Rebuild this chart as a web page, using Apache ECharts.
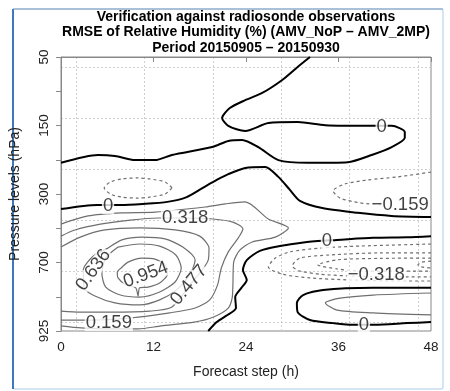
<!DOCTYPE html>
<html><head><meta charset="utf-8">
<script src="https://cdn.jsdelivr.net/npm/echarts/dist/echarts.min.js"></script>
<style>html,body{margin:0;padding:0;background:#fff}#c{width:450px;height:391px}</style>
</head><body><div id="c"></div>
<script>
// ---------------- data ----------------
const titleLines = [
  'Verification against radiosonde observations',
  'RMSE of Relative Humidity (%) (AMV_NoP \u2013 AMV_2MP)',
  'Period 20150905 \u2013 20150930'
];
const xName = 'Forecast step (h)';
const yName = 'Pressure levels (hPa)';
const xTicks = [0, 12, 24, 36, 48];
// y axis: pressure level index (0 = top), labels on every other level
const yTickLabels = ['50', '', '150', '', '300', '', '700', '', '925'];

// contour lines as [forecast hour, pressure-level index]
const zeroA = [[32.3,0],[30.7,0.29],[28.7,0.67],[26.1,1.05],[23.9,1.26],[21.9,1.49],[20.9,1.78],[21.7,2.01],[23.9,2.16],[26.9,1.93],[30.7,1.90],[34.3,1.99],[40.3,2.01],[42.9,2.01],[44.6,2.19],[44.6,2.36],[42.9,2.63],[40.3,2.86],[37.2,3.07],[32.0,3.09],[28.2,3.01],[25.6,2.63],[23.5,2.42],[21.7,2.45],[19.6,2.63],[14.4,2.86],[12.2,3.01],[9.6,3.01],[7.0,2.89],[4.8,2.86],[0,3.09]];
const zeroB = [[0,4.44],[4.7,4.32],[7.7,4.32],[10.6,4.29],[13.8,4.23],[16.3,4.09],[18.4,3.82],[20.2,3.59],[21.7,3.42],[23.9,3.24],[26.5,3.21],[28.2,3.50],[29.7,3.88],[31.0,4.20],[33.9,4.41],[38.5,4.55],[42.9,4.64],[48,4.67]];
const zeroC = [[19.1,8],[20.2,7.74],[21.4,7.56],[22.7,7.33],[22.6,7.01],[23.4,6.74],[24.1,6.51],[23.6,6.22],[24.1,5.93],[25.8,5.66],[28.4,5.52],[31.9,5.40],[33.3,5.37],[35.8,5.34],[40.5,5.28],[44.9,5.26],[48,5.23]];
const zeroD = [[48,6.74],[40.5,6.74],[34.0,6.80],[31.4,6.95],[30.6,7.18],[30.7,7.45],[32.3,7.68],[35.3,7.77],[37.9,7.82],[40.7,7.82],[44.9,7.77],[48,7.74]];

const pos159 = [[0,4.88],[3.5,4.64],[7.9,4.55],[12.2,4.53],[18.7,4.38],[21.3,4.29],[23.9,4.23],[26.9,4.73],[29.5,4.99],[27.8,5.26],[24.8,5.40],[23.2,5.64],[22.4,5.99],[22.3,6.66],[22.2,7.04],[21.7,7.33],[19.8,7.59],[17.3,7.74],[13.0,7.85],[10.0,7.94],[6.3,7.94],[2.6,7.91],[0,7.85]];
const pos159b = [[48,6.89],[40.5,6.95],[36.2,7.04],[34.3,7.18],[35.8,7.39],[40.5,7.47],[48,7.53]];
const pos318 = [[0,5.23],[1.8,5.05],[5.1,4.88],[9.0,4.76],[12.6,4.70],[15.9,4.70],[19.7,4.73],[22.3,4.82],[23.6,5.02],[23.0,5.28],[21.7,5.69],[20.8,6.16],[20.3,6.66],[19.3,7.09],[17.4,7.33],[14.1,7.47],[9.0,7.62],[3.8,7.68],[0,7.68]];
const pos477 = [[0,5.55],[2.5,5.26],[5.7,5.05],[10.2,4.99],[14.8,5.05],[18.0,5.23],[19.2,5.58],[19.1,5.93],[16.7,6.66],[14.4,7.30],[11.5,7.42],[6.4,7.45],[2.5,7.45],[0,7.42]];
const pos636 = [[6.1,5.58],[7.9,5.34],[10.5,5.26],[13.5,5.31],[15.8,5.55],[17.4,5.93],[16.7,6.36],[15.0,6.80],[12.8,7.09],[10.2,7.24],[7.0,7.18],[4.4,6.98],[3.0,6.74],[2.9,6.22],[4.2,5.81],[6.1,5.58]];
const pos795 = [[7.4,5.55],[10.2,5.46],[12.8,5.52],[14.9,5.78],[15.6,6.16],[14.8,6.57],[12.8,6.86],[10.2,7.01],[7.7,6.95],[5.8,6.72],[5.3,6.31],[5.8,5.87],[7.4,5.55]];
const pos954 = [[7.8,6.16],[8.7,5.99],[10.5,5.87],[12.2,5.90],[13.5,6.07],[13.8,6.34],[12.8,6.60],[11.3,6.72],[10.2,6.74],[10.0,6.98],[9.7,6.74],[8.3,6.63],[7.4,6.45],[7.3,6.28],[7.8,6.16]];

const negSmall = [[14.4,3.82],[13.5,3.65],[11.5,3.56],[10.0,3.53],[7.9,3.56],[6.4,3.65],[5.6,3.82],[6.4,4.0],[7.9,4.09],[10.0,4.12],[11.5,4.09],[13.5,4.0],[14.4,3.82]];
const neg159a = [[48,3.36],[43.7,3.50],[39.8,3.59],[36.8,3.71],[35.3,3.91],[36.2,4.12],[38.8,4.26],[42.0,4.32]];
const neg159b = [[48,5.46],[38.8,5.52],[33.6,5.58],[29.7,5.69],[27.8,5.87],[26.9,6.13],[28.7,6.34],[32.3,6.45],[37.5,6.51],[44.0,6.54],[48,6.54]];
const neg318a = [[48,5.72],[41.4,5.72],[34.9,5.78],[31.0,5.87],[30.0,6.10],[31.0,6.25],[33.6,6.34],[37.1,6.39],[44.6,6.42],[48,6.42]];
const neg318b = [[48,5.87],[41.4,5.88],[35.9,5.92],[33.3,6.07],[35.9,6.19],[38.8,6.25],[44.0,6.25],[48,6.25]];
const neg477 = [[48,5.96],[46.8,5.99],[46.3,6.07],[46.8,6.13],[48,6.16]];

// contour labels
const labelTexts = ['0', '0', '0', '0', '0.318', '0.636', '0.954', '0.477', '0.159', '\u22120.159', '\u22120.318'];
const labelX     = [41.6, 6.1, 34.5, 39.3, 16.1, 4.2, 11.0, 16.6, 6.2, 44.0, 40.9];
const labelY     = [2.04, 4.35, 5.37, 7.82, 4.70, 6.22, 6.36, 6.66, 7.77, 4.32, 6.36];
const labelAngle = [0, 0, 0, 0, 0, 54, 20, 50, 0, 0, 0];

// ---------------- chart ----------------
const FONT = 'Liberation Sans, Arial, Helvetica, sans-serif';
const chart = echarts.init(document.getElementById('c'), null, {renderer: 'canvas'});

function lineSeries(data, color, width, type) {
  return {
    type: 'line', data: data, xAxisIndex: 0, yAxisIndex: 0,
    showSymbol: false, symbol: 'none', smooth: 0.25, silent: true,
    lineStyle: {color: color, width: width, type: type}, z: 3
  };
}
const series = [];
[zeroA, zeroB, zeroC, zeroD].forEach(d => series.push(lineSeries(d, '#000', 2, 'solid')));
[pos159, pos159b, pos318, pos477, pos636, pos795, pos954].forEach(d => series.push(lineSeries(d, '#6f6f6f', 1.2, 'solid')));
[negSmall, neg159a, neg159b, neg318a, neg318b, neg477].forEach(d => series.push(lineSeries(d, '#6f6f6f', 1.2, [3, 3])));

series.push({
  type: 'scatter', xAxisIndex: 0, yAxisIndex: 0, symbolSize: 0, silent: true, z: 5,
  data: labelTexts.map((t, i) => ({
    value: [labelX[i], labelY[i]], name: t,
    label: {rotate: labelAngle[i]}
  })),
  label: {
    show: true, position: 'inside', formatter: p => p.name,
    fontFamily: FONT, fontSize: 18.5, color: '#111',
    backgroundColor: '#fff', padding: [0, 1], lineHeight: 16
  }
});

const option = {
  animation: false,
  backgroundColor: '#fff',
  grid: [
    {left: 61, right: 19, top: 57, bottom: 60, show: true, borderColor: '#888', borderWidth: 1, backgroundColor: 'transparent'},
    {left: 7.6, right: 19, top: 57, bottom: 60, show: false},
    {left: 61, right: 19, top: 16, bottom: 60, show: false}
  ],
  xAxis: [
    {
      gridIndex: 0, type: 'value', min: xTicks[0], max: xTicks[xTicks.length - 1], interval: 12,
      name: xName, nameLocation: 'middle', nameGap: 34,
      nameTextStyle: {fontFamily: FONT, fontSize: 14, color: '#222'},
      axisLine: {show: true, lineStyle: {color: '#888'}},
      axisTick: {show: true, length: 5, lineStyle: {color: '#888'}},
      axisLabel: {show: true, margin: 9, fontFamily: FONT, fontSize: 13.5, color: '#222', showMinLabel: true, showMaxLabel: true},
      splitLine: {show: false}
    },
    {
      gridIndex: 1, type: 'value', min: 0, max: 6.19, interval: 1,
      axisLine: {show: false}, axisTick: {show: false}, axisLabel: {show: false},
      splitLine: {show: true, showMinLine: false, showMaxLine: false, lineStyle: {color: '#cfcfcf', type: [2, 2], width: 1}}
    },
    {
      gridIndex: 2, type: 'value', min: 0, max: 1,
      axisLine: {show: false}, axisTick: {show: false}, axisLabel: {show: false}, splitLine: {show: false}
    }
  ],
  yAxis: [
    {
      gridIndex: 0, type: 'value', min: 0, max: yTickLabels.length - 1, interval: 1, inverse: true,
      name: yName, nameLocation: 'middle', nameGap: 39, nameRotate: 90,
      nameTextStyle: {fontFamily: FONT, fontSize: 14, color: '#222'},
      axisLine: {show: true, lineStyle: {color: '#888'}},
      axisTick: {show: true, length: 5, lineStyle: {color: '#888'}},
      axisLabel: {show: true, rotate: 90, margin: 10, fontFamily: FONT, fontSize: 13.5, color: '#222',
        showMinLabel: true, showMaxLabel: true,
        formatter: v => yTickLabels[Math.round(v)] || ''},
      splitLine: {show: false}
    },
    {
      gridIndex: 1, type: 'value', min: 0, max: 1,
      axisLine: {show: false}, axisTick: {show: false}, axisLabel: {show: false}, splitLine: {show: false}
    },
    {
      gridIndex: 2, type: 'value', min: 0, max: 6.18, interval: 1, inverse: true,
      axisLine: {show: false}, axisTick: {show: false}, axisLabel: {show: false},
      splitLine: {show: true, showMinLine: false, showMaxLine: false, lineStyle: {color: '#cfcfcf', type: [2, 2], width: 1}}
    }
  ],
  graphic: [
    {type: 'rect', z: -10, silent: true, shape: {x: 13, y: 9, width: 430, height: 380, r: 2},
      style: {fill: 'none', stroke: '#c9dcef', lineWidth: 1.5}},
    {type: 'line', z: -9, silent: true, shape: {x1: 13, y1: 9, x2: 13, y2: 389}, style: {stroke: '#3f78bd', lineWidth: 2}},
    {type: 'line', z: -9, silent: true, shape: {x1: 13, y1: 9, x2: 443, y2: 9}, style: {stroke: '#7f9cc0', lineWidth: 1.2}}
  ].concat(titleLines.map((t, i) => ({
    type: 'text', silent: true, x: 246, y: 17 + i * 15.5,
    style: {text: t, align: 'center', verticalAlign: 'middle', font: 'bold 14px ' + FONT, fill: '#000'}
  }))),
  series: series
};
chart.setOption(option);
</script>
</body></html>
